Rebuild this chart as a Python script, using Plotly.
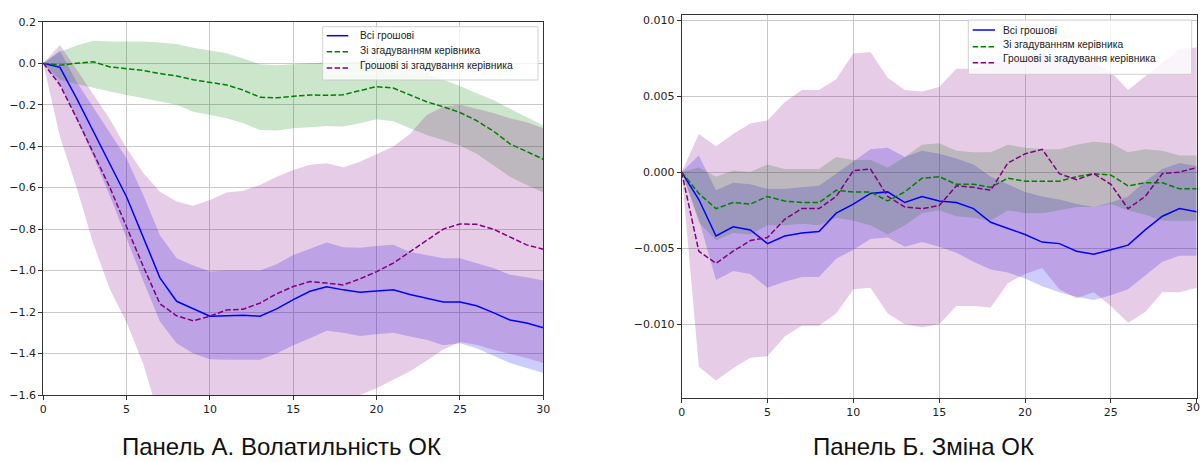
import plotly.graph_objects as go

steps = list(range(31))

# ---------------- Panel A: volatility ----------------
a_all = [0, -0.02, -0.17, -0.33, -0.49, -0.645, -0.84, -1.035, -1.148, -1.185, -1.22,
         -1.218, -1.215, -1.22, -1.185, -1.14, -1.10, -1.078, -1.093, -1.104, -1.098,
         -1.092, -1.115, -1.135, -1.152, -1.152, -1.17, -1.203, -1.238, -1.253, -1.276]
a_all_hi = [0, 0.06, -0.09, -0.215, -0.335, -0.46, -0.635, -0.83, -0.94, -0.975, -1.005,
            -1.0, -1.0, -1.0, -0.97, -0.925, -0.895, -0.865, -0.887, -0.89, -0.881,
            -0.876, -0.91, -0.925, -0.94, -0.94, -0.964, -0.988, -1.02, -1.032, -1.048]
a_all_lo = [0, -0.1, -0.27, -0.45, -0.64, -0.85, -1.05, -1.245, -1.35, -1.40, -1.427,
            -1.43, -1.43, -1.43, -1.40, -1.36, -1.326, -1.29, -1.30, -1.315, -1.307,
            -1.30, -1.318, -1.334, -1.36, -1.35, -1.375, -1.41, -1.446, -1.47, -1.494]

a_mgr = [0, -0.01, 0.0, 0.007, -0.018, -0.025, -0.035, -0.05, -0.062, -0.08, -0.094,
         -0.105, -0.13, -0.164, -0.167, -0.16, -0.153, -0.155, -0.152, -0.132, -0.113,
         -0.12, -0.153, -0.186, -0.21, -0.238, -0.277, -0.327, -0.389, -0.426, -0.463]
a_mgr_hi = [0, 0.055, 0.085, 0.108, 0.105, 0.105, 0.104, 0.1, 0.092, 0.074, 0.06,
            0.048, 0.023, -0.005, -0.01, -0.005, 0.0, 0.005, 0.003, 0.012, 0.02,
            0.012, -0.02, -0.05, -0.08, -0.11, -0.145, -0.177, -0.22, -0.26, -0.30]
a_mgr_lo = [0, -0.08, -0.1, -0.12, -0.137, -0.153, -0.17, -0.185, -0.2, -0.234, -0.25,
            -0.265, -0.29, -0.322, -0.325, -0.314, -0.309, -0.303, -0.305, -0.29, -0.27,
            -0.28, -0.314, -0.346, -0.37, -0.397, -0.437, -0.49, -0.547, -0.587, -0.624]

a_both = [0, -0.105, -0.265, -0.43, -0.6, -0.79, -0.98, -1.16, -1.218, -1.242, -1.22,
          -1.19, -1.186, -1.157, -1.112, -1.077, -1.053, -1.06, -1.069, -1.04, -1.005,
          -0.964, -0.908, -0.852, -0.8, -0.775, -0.777, -0.8, -0.839, -0.876, -0.897]
a_both_hi = [0, 0.088, -0.03, -0.15, -0.27, -0.41, -0.53, -0.62, -0.667, -0.687, -0.66,
             -0.624, -0.615, -0.587, -0.547, -0.515, -0.49, -0.483, -0.502, -0.475, -0.438,
             -0.402, -0.341, -0.25, -0.21, -0.2, -0.22, -0.24, -0.266, -0.285, -0.314]
a_both_lo = [0, -0.355, -0.6, -0.87, -1.09, -1.25, -1.45, -1.72, -1.85, -1.92, -1.95,
             -1.95, -1.93, -1.9, -1.86, -1.81, -1.76, -1.7, -1.65, -1.6, -1.567,
             -1.527, -1.485, -1.435, -1.38, -1.345, -1.358, -1.382, -1.401, -1.422, -1.446]

# ---------------- Panel B: change ----------------
b_all = [0, -0.0018, -0.0042, -0.0036, -0.0038, -0.0047, -0.0042, -0.0040, -0.0039, -0.0027, -0.0021,
         -0.0014, -0.0013, -0.0020, -0.0016, -0.0019, -0.0020, -0.0024, -0.0033, -0.0037, -0.0041,
         -0.0046, -0.0047, -0.0052, -0.0054, -0.0051, -0.0048, -0.0038, -0.0029, -0.0024, -0.0026]
b_all_hi = [0, 0.0011, -0.0012, -0.0007, -0.0008, -0.0011, -0.0011, -0.0010, -0.0009, -0.0001, 0.0007,
            0.0015, 0.0016, 0.0010, 0.0014, 0.0012, 0.0009, 0.0005, -0.0003, -0.0008, -0.0013,
            -0.0016, -0.0018, -0.0021, -0.0023, -0.0020, -0.0016, -0.0006, 0.0002, 0.0006, 0.0004]
b_all_lo = [0, -0.0031, -0.0071, -0.0065, -0.0067, -0.0076, -0.0072, -0.0069, -0.0069, -0.0057, -0.0051,
            -0.0044, -0.0043, -0.0049, -0.0046, -0.0049, -0.0053, -0.0059, -0.0064, -0.0066, -0.0070,
            -0.0075, -0.0079, -0.0082, -0.0084, -0.0081, -0.0077, -0.0068, -0.0059, -0.0055, -0.0055]

b_mgr = [0, -0.0014, -0.0024, -0.0020, -0.0021, -0.0016, -0.0019, -0.0020, -0.0020, -0.0012, -0.0013,
         -0.0013, -0.0019, -0.0013, -0.0004, -0.0003, -0.0008, -0.0008, -0.0010, -0.0004, -0.0006,
         -0.0006, -0.0006, -0.0003, -0.0001, -0.0002, -0.0009, -0.0007, -0.0007, -0.0011, -0.0011]
b_mgr_hi = [0, 0.0003, -0.0003, 0.0001, 0.0, 0.0005, 0.0002, 0.0002, 0.0002, 0.0010, 0.0008,
            0.0008, 0.0003, 0.0010, 0.0018, 0.0019, 0.0014, 0.0013, 0.0013, 0.0018, 0.0016,
            0.0015, 0.0015, 0.0018, 0.0020, 0.0019, 0.0013, 0.0015, 0.0014, 0.0011, 0.0011]
b_mgr_lo = [0, -0.0033, -0.0045, -0.0040, -0.0041, -0.0035, -0.0035, -0.0034, -0.0035, -0.0030, -0.0032,
            -0.0035, -0.0041, -0.0035, -0.0027, -0.0025, -0.0029, -0.0030, -0.0032, -0.0025, -0.0027,
            -0.0027, -0.0025, -0.0023, -0.0023, -0.0021, -0.0025, -0.0028, -0.0032, -0.0032, -0.0032]

b_both = [0, -0.0052, -0.0060, -0.0052, -0.0045, -0.0043, -0.0031, -0.0024, -0.0024, -0.0016, 0.0001,
          0.0002, -0.0016, -0.0023, -0.0024, -0.0022, -0.0009, -0.0010, -0.0012, 0.0006, 0.0012,
          0.0015, -0.0001, -0.0005, -0.0001, -0.0008, -0.0024, -0.0016, -0.0001, 0.0, 0.0003]
b_both_hi = [0, 0.0025, 0.0017, 0.0025, 0.0032, 0.0034, 0.0046, 0.0054, 0.0054, 0.0061, 0.0078,
             0.0079, 0.0062, 0.0054, 0.0053, 0.0056, 0.0068, 0.0068, 0.0072, 0.0074, 0.0076,
             0.0078, 0.0075, 0.0074, 0.0072, 0.0066, 0.0054, 0.0063, 0.0072, 0.0081, 0.0082]
b_both_lo = [0, -0.0128, -0.0137, -0.0129, -0.0122, -0.0121, -0.0108, -0.0101, -0.0101, -0.0093, -0.0077,
             -0.0076, -0.0093, -0.0100, -0.0102, -0.0100, -0.0088, -0.0088, -0.0089, -0.0073, -0.0067,
             -0.0063, -0.0077, -0.0083, -0.0079, -0.0088, -0.0099, -0.0092, -0.0079, -0.0079, -0.0076]

names = ["Всі грошові", "Зі згадуванням керівника", "Грошові зі згадування керівника"]
line_colors = ["#0000ff", "#008000", "#800080"]
fill_colors = ["rgba(0,0,255,0.2)", "rgba(0,128,0,0.2)", "rgba(128,0,128,0.2)"]
dashes = ["solid", "5.5px,2.4px", "5.5px,2.4px"]

a_title = "Панель А. Волатильність ОК"
b_title = "Панель Б. Зміна ОК"

a_ticks = [-1.6, -1.4, -1.2, -1.0, -0.8, -0.6, -0.4, -0.2, 0.0, 0.2]
b_ticks = [-0.010, -0.005, 0.0, 0.005, 0.010]
x_ticks = [0, 5, 10, 15, 20, 25, 30]

W, H = 1202, 462

fig = go.Figure()

panels = [
    ("x", "y", [(a_all, a_all_lo, a_all_hi), (a_mgr, a_mgr_lo, a_mgr_hi), (a_both, a_both_lo, a_both_hi)]),
    ("x2", "y2", [(b_all, b_all_lo, b_all_hi), (b_mgr, b_mgr_lo, b_mgr_hi), (b_both, b_both_lo, b_both_hi)]),
]

for xa, ya, series in panels:
    for i, (mid, lo, hi) in enumerate(series):
        fig.add_trace(go.Scatter(x=steps, y=lo, mode="lines", line=dict(width=0),
                                 hoverinfo="skip", showlegend=False, xaxis=xa, yaxis=ya))
        fig.add_trace(go.Scatter(x=steps, y=hi, mode="lines", line=dict(width=0),
                                 fill="tonexty", fillcolor=fill_colors[i],
                                 hoverinfo="skip", showlegend=False, xaxis=xa, yaxis=ya))
    for i, (mid, lo, hi) in enumerate(series):
        fig.add_trace(go.Scatter(x=steps, y=mid, mode="lines", name=names[i],
                                 line=dict(color=line_colors[i], width=1.5, dash=dashes[i]),
                                 showlegend=False, xaxis=xa, yaxis=ya))

tickfont = dict(family="DejaVu Sans", size=11, color="#222222")
axis_common = dict(showline=True, mirror=True, linecolor="#333333", linewidth=1,
                   ticks="outside", ticklen=4, tickcolor="#333333", tickwidth=1,
                   showgrid=True, gridcolor="#c8c8c8", gridwidth=1, zeroline=False,
                   tickfont=tickfont, automargin=False)

# ---- hand-built legends (paper coordinates from pixel positions) ----
def px(x):
    return x / W

def py(y):
    return 1 - y / H

shapes = []
annotations = []

legend_specs = [
    dict(box=(322.7, 538.0, 26.7, 80.0), hx=(326.7, 348.3), tx=358.3,
         hy=[35.7, 51.8, 68.0], ty=[35.5, 50.8, 65.5]),
    dict(box=(968.3, 1191.7, 20.0, 74.3), hx=(972.7, 995.0), tx=1000.7,
         hy=[30.0, 46.7, 62.7], ty=[30.0, 45.0, 58.5]),
]

for spec in legend_specs:
    x0, x1, y0, y1 = spec["box"]
    shapes.append(dict(type="rect", xref="paper", yref="paper",
                       x0=px(x0), x1=px(x1), y0=py(y1), y1=py(y0),
                       fillcolor="rgba(255,255,255,0.8)",
                       line=dict(color="rgba(204,204,204,0.9)", width=1), layer="above"))
    for i in range(3):
        shapes.append(dict(type="line", xref="paper", yref="paper",
                           x0=px(spec["hx"][0]), x1=px(spec["hx"][1]),
                           y0=py(spec["hy"][i]), y1=py(spec["hy"][i]),
                           line=dict(color=line_colors[i], width=1.5, dash=dashes[i]),
                           layer="above"))
        annotations.append(dict(text=names[i], xref="paper", yref="paper",
                                x=px(spec["tx"]), y=py(spec["ty"][i]),
                                xanchor="left", yanchor="middle", showarrow=False,
                                font=dict(family="Liberation Sans", size=10.3, color="#222222")))

annotations += [
    dict(text=a_title, x=281 / W, y=py(446), xref="paper", yref="paper", showarrow=False,
         xanchor="center", yanchor="middle",
         font=dict(family="Liberation Sans", size=24, color="#111111")),
    dict(text=b_title, x=923 / W, y=py(446), xref="paper", yref="paper", showarrow=False,
         xanchor="center", yanchor="middle",
         font=dict(family="Liberation Sans", size=24, color="#111111")),
    # last tick label of the right panel (kept fully inside the page)
    dict(text=str(x_ticks[-1]), x=1.0, xref="paper", y=py(407), yref="paper",
         showarrow=False, xanchor="right", yanchor="middle", font=tickfont),
]

fig.update_layout(
    width=W, height=H,
    margin=dict(l=0, r=0, t=0, b=0),
    paper_bgcolor="white", plot_bgcolor="white",
    showlegend=False,
    xaxis=dict(domain=[0.0360, 0.4520], range=[0, 30], tickvals=x_ticks, anchor="y", **axis_common),
    yaxis=dict(domain=[0.1450, 0.9530], range=[-1.6, 0.2], tickvals=a_ticks, tickformat=".1f",
               anchor="x", **axis_common),
    xaxis2=dict(domain=[0.5671, 0.9956], range=[0, 30], tickvals=x_ticks, anchor="y2", **axis_common),
    yaxis2=dict(domain=[0.1392, 0.9682], range=[-0.01483, 0.01035], tickvals=b_ticks, tickformat=".3f",
                anchor="x2", **axis_common),
    shapes=shapes,
    annotations=annotations,
)

fig.write_html("out.html")
